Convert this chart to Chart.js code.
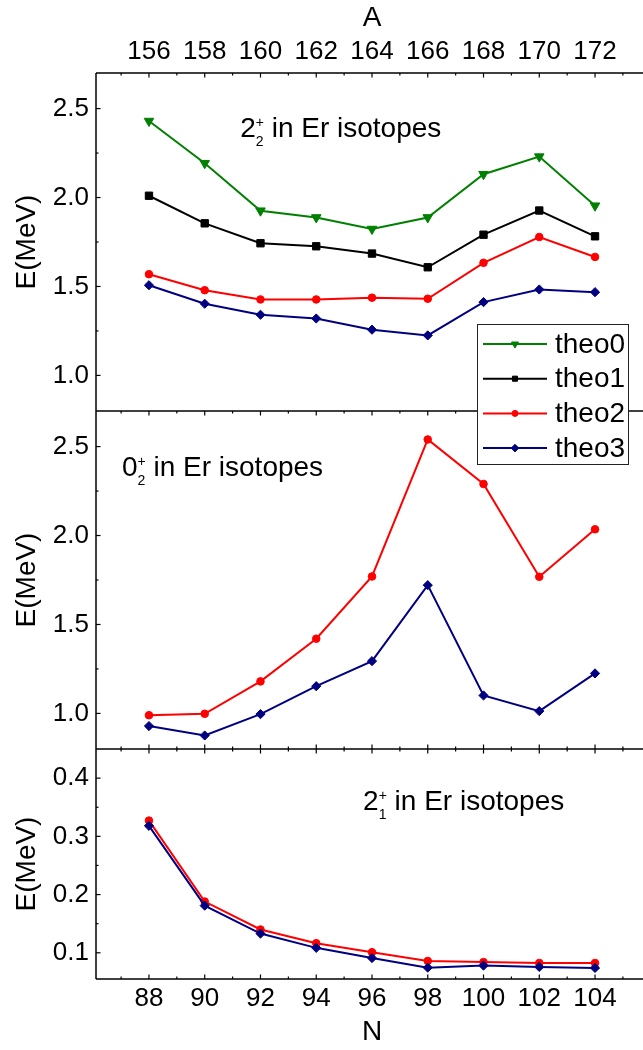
<!DOCTYPE html>
<html>
<head>
<meta charset="utf-8">
<script src="https://cdn.jsdelivr.net/npm/chart.js@4/dist/chart.umd.min.js"></script>
<style>
html,body{margin:0;padding:0;background:#fff;overflow:hidden;width:643px;height:1050px}
#wrap{position:absolute;left:0;top:0;width:660px;height:1050px}
canvas{display:block}
</style>
</head>
<body>
<div id="wrap"><canvas id="c" width="660" height="1050"></canvas></div>
<script>
// ---------------- data ----------------
const neutronNumbers = [88, 90, 92, 94, 96, 98, 100, 102, 104];
const nTickLabels = [88, 90, 92, 94, 96, 98, 100, 102, 104];
const nMinorTicks = [87, 89, 91, 93, 95, 97, 99, 101, 103, 105];
const massTickLabels = [156, 158, 160, 162, 164, 166, 168, 170, 172];
const protonNumber = 68; // Er: A = N + 68

// 2_2^+ energies (MeV)
const e22Theo0 = [2.430, 2.193, 1.926, 1.888, 1.823, 1.888, 2.131, 2.230, 1.954];
const e22Theo1 = [2.010, 1.855, 1.743, 1.726, 1.685, 1.608, 1.791, 1.927, 1.782];
const e22Theo2 = [1.569, 1.479, 1.427, 1.427, 1.437, 1.431, 1.633, 1.778, 1.666];
const e22Theo3 = [1.507, 1.403, 1.341, 1.320, 1.257, 1.225, 1.412, 1.483, 1.468];
// 0_2^+ energies (MeV)
const e02Theo2 = [0.990, 0.998, 1.180, 1.420, 1.770, 2.540, 2.290, 1.768, 2.035];
const e02Theo3 = [0.929, 0.876, 0.996, 1.153, 1.294, 1.721, 1.101, 1.013, 1.225];
// 2_1^+ energies (MeV)
const e21Theo2 = [0.327, 0.188, 0.140, 0.1165, 0.101, 0.086, 0.084, 0.0825, 0.0825];
const e21Theo3 = [0.318, 0.181, 0.133, 0.1085, 0.091, 0.0745, 0.078, 0.0757, 0.074];

const yTicksUpper = [1.0, 1.5, 2.0, 2.5];
const yMinorUpper = [1.25, 1.75, 2.25];
const yTicksLower = [0.1, 0.2, 0.3, 0.4];
const yMinorLower = [0.15, 0.25, 0.35];

// ---------------- styling ----------------
const FONT = '"Liberation Sans", Arial, Helvetica, sans-serif';
Chart.defaults.font.family = FONT;
Chart.defaults.color = '#000';

const COLORS = { theo0: '#008000', theo1: '#000000', theo2: '#ff0000', theo3: '#000080' };
const STYLES = {
  theo0: { pointStyle: 'triangle', radius: 5.5, rotation: 180, legendRadius: 4 },
  theo1: { pointStyle: 'rect', radius: 5.2, rotation: 0, legendRadius: 3.6 },
  theo2: { pointStyle: 'circle', radius: 3.8, rotation: 0, legendRadius: 3 },
  theo3: { pointStyle: 'rectRot', radius: 4.6, rotation: 0, legendRadius: 3.8 }
};
const ORDER = { theo0: 3, theo1: 2, theo2: 1, theo3: 0 };

function series(name, values, yAxisID, inLegend) {
  const s = STYLES[name];
  return {
    label: name,
    inLegend: inLegend,
    data: neutronNumbers.map((n, i) => ({ x: n, y: values[i] })),
    xAxisID: 'x',
    yAxisID: yAxisID,
    borderColor: COLORS[name],
    backgroundColor: COLORS[name],
    borderWidth: 2,
    pointStyle: s.pointStyle,
    pointRadius: s.radius,
    pointRotation: s.rotation,
    pointBorderWidth: 1,
    pointBorderColor: COLORS[name],
    pointBackgroundColor: COLORS[name],
    tension: 0,
    fill: false,
    order: ORDER[name]
  };
}

const datasets = [
  series('theo0', e22Theo0, 'yA', true),
  series('theo1', e22Theo1, 'yA', true),
  series('theo2', e22Theo2, 'yA', true),
  series('theo3', e22Theo3, 'yA', true),
  series('theo2', e02Theo2, 'yB', false),
  series('theo3', e02Theo3, 'yB', false),
  series('theo2', e21Theo2, 'yC', false),
  series('theo3', e21Theo3, 'yC', false)
];

const annotations = [
  { axis: 'yA', x: 91.27, y: 2.34, main: '2', sub: '2', sup: '+', rest: ' in Er isotopes' },
  { axis: 'yB', x: 87.03, y: 2.335, main: '0', sub: '2', sup: '+', rest: ' in Er isotopes' },
  { axis: 'yC', x: 95.68, y: 0.345, main: '2', sub: '1', sup: '+', rest: ' in Er isotopes' }
];

const X_MIN = 86.1, X_MAX = 105.9;
const TICK_FONT = { size: 26, family: FONT };
const TITLE_FONT = { size: 28, family: FONT };

function yScale(min, max, weight, stackWeight, majors) {
  return {
    type: 'linear', position: 'left', stack: 'panels', stackWeight: stackWeight, weight: weight,
    min: min, max: max,
    grid: { display: false, drawTicks: false }, border: { display: false },
    afterBuildTicks: s => { s.ticks = majors.map(v => ({ value: v })); },
    afterFit: s => { s.width = 96; },
    ticks: { font: TICK_FONT, color: '#000', padding: 7, autoSkip: false,
             callback: v => Number(v).toFixed(1) },
    title: { display: true, text: 'E(MeV)', font: TITLE_FONT, color: '#000', padding: { top: 10, bottom: 0 } }
  };
}

// frame + inward ticks
const framePlugin = {
  id: 'frame',
  beforeDatasetsDraw(chart) {
    const { ctx, chartArea, scales } = chart;
    const { left, right } = chartArea;
    const x = scales.x, yA = scales.yA, yB = scales.yB, yC = scales.yC;
    ctx.save();
    ctx.strokeStyle = '#000';
    ctx.lineWidth = 1.5;
    const hline = (y) => { ctx.beginPath(); ctx.moveTo(left, y); ctx.lineTo(right + 2, y); ctx.stroke(); };
    const vline = (xx, y1, y2) => { ctx.beginPath(); ctx.moveTo(xx, y1); ctx.lineTo(xx, y2); ctx.stroke(); };
    hline(yA.top); hline(yA.bottom); hline(yB.bottom); hline(yC.bottom);
    vline(left, yA.top, yC.bottom);
    vline(right, yA.top, yC.bottom);

    ctx.lineWidth = 1.2;
    const MAJ = 4.5, MIN = 2.5;
    // x ticks on horizontal edges: dir +1 = downward, -1 = upward
    const edges = [[yA.top, 1], [yB.top, 1], [yB.bottom, -1], [yC.top, 1], [yC.bottom, -1]];
    for (const [ey, dir] of edges) {
      for (const v of nTickLabels) { const px = x.getPixelForValue(v); vline(px, ey, ey + dir * MAJ); }
      for (const v of nMinorTicks) { const px = x.getPixelForValue(v); vline(px, ey, ey + dir * MIN); }
    }
    // y ticks on left edge
    const yt = [[yA, yTicksUpper, yMinorUpper], [yB, yTicksUpper, yMinorUpper], [yC, yTicksLower, yMinorLower]];
    for (const [sc, maj, mnr] of yt) {
      for (const v of maj) { const py = sc.getPixelForValue(v); ctx.beginPath(); ctx.moveTo(left, py); ctx.lineTo(left + MAJ, py); ctx.stroke(); }
      for (const v of mnr) { const py = sc.getPixelForValue(v); ctx.beginPath(); ctx.moveTo(left, py); ctx.lineTo(left + MIN, py); ctx.stroke(); }
    }
    ctx.restore();
  },
  afterDraw(chart) {
    const { ctx, scales } = chart;
    ctx.save();
    // annotations
    ctx.fillStyle = '#000';
    ctx.textBaseline = 'alphabetic';
    ctx.textAlign = 'left';
    for (const a of annotations) {
      const px = scales.x.getPixelForValue(a.x);
      const py = scales[a.axis].getPixelForValue(a.y);
      ctx.font = '28px ' + FONT;
      ctx.fillText(a.main, px, py);
      const w = ctx.measureText(a.main).width;
      ctx.font = '14px ' + FONT;
      ctx.fillText(a.sup, px + w, py - 10);
      ctx.fillText(a.sub, px + w, py + 9);
      const ws = Math.max(ctx.measureText(a.sup).width, ctx.measureText(a.sub).width);
      ctx.font = '28px ' + FONT;
      ctx.fillText(a.rest, px + w + ws, py);
    }
    // legend
    const bx = 477, by = 324, bw = 151, bh = 140;
    ctx.fillStyle = '#fff';
    ctx.fillRect(bx, by, bw, bh);
    ctx.strokeStyle = '#222';
    ctx.lineWidth = 1;
    ctx.strokeRect(bx + 0.5, by + 0.5, bw, bh);
    const items = chart.data.datasets.filter(d => d.inLegend);
    items.forEach((d, i) => {
      const cy = by + 20 + i * 34.7;
      ctx.strokeStyle = d.borderColor;
      ctx.lineWidth = 2;
      ctx.beginPath(); ctx.moveTo(bx + 6, cy); ctx.lineTo(bx + 70, cy); ctx.stroke();
      ctx.fillStyle = d.borderColor;
      ctx.lineWidth = 1;
      Chart.helpers.drawPoint(ctx, { pointStyle: d.pointStyle, radius: STYLES[d.label].legendRadius, rotation: d.pointRotation, borderWidth: 1 }, bx + 38, cy);
      ctx.fillStyle = '#000';
      ctx.font = '28px ' + FONT;
      ctx.textBaseline = 'middle';
      ctx.fillText(d.label, bx + 78, cy + 1);
    });
    ctx.restore();
  }
};

new Chart(document.getElementById('c'), {
  type: 'line',
  data: { datasets: datasets },
  options: {
    responsive: false,
    animation: false,
    devicePixelRatio: 1,
    events: [],
    layout: { padding: { left: 0, right: 12, top: 0, bottom: 0 } },
    plugins: { legend: { display: false }, tooltip: { enabled: false } },
    scales: {
      x: {
        type: 'linear', position: 'bottom', min: X_MIN, max: X_MAX,
        grid: { display: false, drawTicks: false }, border: { display: false },
        afterBuildTicks: s => { s.ticks = nTickLabels.map(v => ({ value: v })); },
        afterFit: s => { s.height = 71; },
        ticks: { font: TICK_FONT, color: '#000', padding: 4, autoSkip: false, maxRotation: 0, callback: v => String(v) },
        title: { display: true, text: 'N', font: TITLE_FONT, color: '#000', padding: { top: 0, bottom: 1 } }
      },
      x2: {
        type: 'linear', position: 'top', min: X_MIN + protonNumber, max: X_MAX + protonNumber,
        grid: { display: false, drawTicks: false }, border: { display: false },
        afterBuildTicks: s => { s.ticks = massTickLabels.map(v => ({ value: v })); },
        afterFit: s => { s.height = 73; },
        ticks: { font: TICK_FONT, color: '#000', padding: 6, autoSkip: false, maxRotation: 0, callback: v => String(v) },
        title: { display: true, text: 'A', font: TITLE_FONT, color: '#000', padding: { top: 1, bottom: 0 } }
      },
      yA: yScale(0.8, 2.7, 3, 338, yTicksUpper),
      yB: yScale(0.8, 2.7, 2, 338, yTicksUpper),
      yC: yScale(0.055, 0.45, 1, 230, yTicksLower)
    }
  },
  plugins: [framePlugin]
});
</script>
</body>
</html>
